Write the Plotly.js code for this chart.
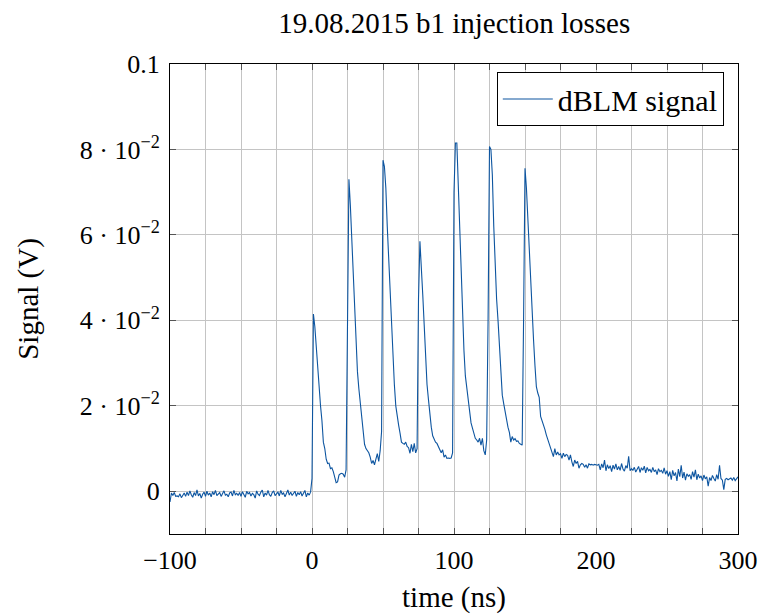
<!DOCTYPE html>
<html>
<head>
<meta charset="utf-8">
<script src="https://cdn.plot.ly/plotly-3.0.1.min.js"></script>
<style>html,body{margin:0;padding:0;background:#fff;}#chart{width:759px;height:614px;}</style>
</head>
<body>
<div id="chart"></div>
<script>
// Sampling grid of the trace (ns)
const tStart = -100;
const tStep = 1;

// dBLM signal in mV, one value per ns from t = -100 ns to t = 300 ns
const baseline_mV = [
  -2.5, -0.4, -1.0, -0.3, -1.2, -1.1, -1.3, -0.6, -1.5, -0.9,
  -0.4, -1.2, -0.2, -1.0, 0.1, -0.8, -1.4, -0.3, -1.0, 0.3,
  -1.1, -0.5, -1.6, -0.7, -0.2, -1.2, 0.0, -0.9, -0.4, -1.3,
  -0.1, -0.8, 0.2, -1.0, -0.5, -0.3, -1.2, -0.6, 0.1, -0.9,
  -0.7, -1.3, -0.4, -0.2, -1.1, 0.2, -0.8, -0.5, -1.0, -0.3,
  -1.2, -0.1, -0.9, -1.4, 0.0, -0.6, -0.3, -1.1, -0.5, -0.8,
  -1.6, 0.1, -0.7, -1.0, -0.2, 0.3, -1.3, -0.4, -0.9, 0.2,
  -0.8, -1.2, -0.3, 0.1, -1.0, -0.5, -0.2, -1.1, 0.2, -0.7,
  -0.4, -1.3, -0.6, 0.3, -0.9, -0.2, -1.0, -0.5, 0.0, -1.2,
  -0.3, -0.8, -0.1, -1.1, -0.6, 0.2, -1.3, -0.4, -0.9, -0.2
];
const pulses_mV = [
  3.0, 41.5, 38.5, 33.5, 28.0, 23.5, 20.0, 16.5, 11.5, 10.0,
  7.5, 6.5, 6.6, 5.3, 5.5, 4.6, 3.5, 2.0, 2.2, 3.8,
  4.1, 4.2, 4.0, 3.3, 5.0, 50.0, 73.0, 67.0, 59.0, 50.0,
  42.0, 35.0, 28.0, 24.0, 21.0, 17.0, 13.5, 11.0, 10.0, 9.5,
  9.0, 8.0, 6.5, 7.2, 6.2, 7.5, 8.8, 7.0, 9.5, 14.0,
  77.5, 76.0, 71.0, 62.0, 54.0, 47.0, 40.0, 33.0, 25.0, 20.0,
  17.0, 15.5, 13.6, 11.5, 11.2, 11.0, 11.5, 10.5, 10.2, 8.9,
  11.0, 9.3, 11.2, 9.0, 10.0, 45.0, 58.5, 53.0, 46.0, 39.0,
  31.0, 25.0, 21.5, 18.0, 15.0, 13.0, 12.2, 11.5, 11.2, 10.5,
  9.7, 9.0, 9.7, 8.0, 8.5, 7.7, 7.8, 7.7, 7.8, 9.0,
  70.0, 81.5, 81.5, 72.0, 58.0, 48.0, 40.0, 33.0, 27.0, 24.0,
  20.5, 17.5, 16.0, 14.8, 13.5, 12.4, 12.0, 11.5, 12.4, 10.8,
  12.4, 9.5, 8.5, 12.0, 40.0, 80.7, 80.0, 74.0, 62.0, 51.0,
  45.0, 40.0, 33.0, 27.0, 22.5, 20.5, 18.5, 16.5, 15.0, 13.8,
  11.5, 12.8, 12.0, 12.3, 11.7, 11.8, 11.2, 11.0, 10.8, 40.0,
  75.6, 71.0, 63.5, 56.0, 48.0, 41.0, 35.5, 29.5, 24.5, 23.0,
  22.0, 17.5, 16.5, 15.8, 14.5, 13.2, 12.2, 11.3, 10.4, 9.5
];
const tail_mV = [
  8.1, 10.0, 8.5, 9.2, 8.5, 8.8, 7.7, 8.9, 8.1, 8.6,
  8.4, 7.3, 8.5, 6.9, 5.8, 7.3, 6.5, 7.0, 5.4, 6.2,
  6.5, 6.3, 5.6, 6.2, 5.4, 6.4, 6.2, 6.3, 6.1, 6.3,
  6.2, 6.1, 6.3, 5.0, 6.4, 5.5, 7.3, 4.8, 6.2, 5.3,
  6.0, 4.6, 6.1, 5.2, 6.4, 5.0, 5.8, 4.9, 6.5, 5.2,
  4.7, 6.0, 5.4, 8.2, 4.8, 5.3, 4.9, 5.6, 4.5, 5.2,
  5.8, 4.4, 5.5, 4.9, 5.9, 4.3, 5.6, 4.8, 5.1, 4.4,
  5.6, 4.6, 5.0, 3.9, 5.3, 4.6, 4.9, 4.2, 5.5, 4.0,
  4.8, 3.5, 4.6, 2.7, 4.9, 3.6, 4.4, 2.4, 5.2, 3.4,
  6.1, 3.1, 4.5, 2.6, 4.1, 3.5, 3.9, 2.8, 4.6, 3.3,
  5.0, 2.7, 4.0, 3.1, 3.6, 2.5, 3.8, 2.9, 3.4, 1.2,
  3.2, 2.5, 3.7, 3.0, 2.4, 3.9, 2.8, 6.1, 3.0, 2.6,
  0.4, 2.8, 3.0, 2.7, 2.9, 3.1, 2.6, 3.2, 2.5, 3.0,
  3.4
];

const xTickVals = [-100, 0, 100, 200, 300];
const xTickText = ['\u2212100', '0', '100', '200', '300'];
const xGridStep = 25;
const yTickVals = [0, 0.02, 0.04, 0.06, 0.08, 0.1];
const yTickText = ['0', '2 \u00b7 10<sup>\u22122</sup>', '4 \u00b7 10<sup>\u22122</sup>', '6 \u00b7 10<sup>\u22122</sup>', '8 \u00b7 10<sup>\u22122</sup>', '0.1'];

const signal_V = baseline_mV.concat(pulses_mV, tail_mV).map(v => v / 1000);

const FONT = 'Liberation Serif, Times New Roman, serif';
const GRID = '#c4c4c4';

const trace = {
  type: 'scatter',
  mode: 'lines',
  name: 'dBLM signal',
  x0: tStart,
  dx: tStep,
  y: signal_V,
  line: {color: '#0d55a0', width: 1.1}
};

const layout = {
  width: 759,
  height: 614,
  margin: {l: 170, r: 21, t: 64, b: 80},
  paper_bgcolor: '#ffffff',
  plot_bgcolor: '#ffffff',
  font: {family: FONT, color: '#000', size: 24},
  title: {
    text: '19.08.2015 b1 injection losses',
    font: {family: FONT, size: 29, color: '#000'},
    x: 0.5985, xanchor: 'center',
    y: 0.962, yanchor: 'middle'
  },
  showlegend: true,
  legend: {
    x: 0.975, xanchor: 'right',
    y: 0.983, yanchor: 'top',
    bgcolor: '#ffffff',
    bordercolor: '#000',
    borderwidth: 1,
    font: {family: FONT, size: 30, color: '#000'},
    itemwidth: 50
  },
  xaxis: {
    range: [-100, 300],
    tickmode: 'array',
    tickvals: xTickVals,
    ticktext: xTickText,
    ticks: 'inside',
    ticklen: 6,
    tickcolor: '#555',
    ticklabelstandoff: 3,
    showgrid: true,
    gridcolor: GRID,
    gridwidth: 1,
    minor: {dtick: xGridStep, tick0: 0, ticks: 'inside', ticklen: 6, tickcolor: '#555', showgrid: true, gridcolor: GRID, gridwidth: 1},
    zeroline: false,
    showline: true,
    linecolor: '#000',
    linewidth: 1,
    mirror: 'ticks',
    tickfont: {family: FONT, size: 26, color: '#000'},
    title: {text: 'time (ns)', font: {family: FONT, size: 29, color: '#000'}, standoff: 14}
  },
  yaxis: {
    range: [-0.01, 0.1],
    tickmode: 'array',
    tickvals: yTickVals,
    ticktext: yTickText,
    ticks: 'inside',
    ticklen: 6,
    tickcolor: '#555',
    ticklabelstandoff: 4,
    showgrid: true,
    gridcolor: GRID,
    gridwidth: 1,
    zeroline: false,
    showline: true,
    linecolor: '#000',
    linewidth: 1,
    mirror: 'ticks',
    tickfont: {family: FONT, size: 26, color: '#000'},
    title: {text: 'Signal (V)', font: {family: FONT, size: 29, color: '#000'}, standoff: 32}
  }
};

Plotly.newPlot('chart', [trace], layout, {displayModeBar: false, staticPlot: true});
</script>
</body>
</html>
